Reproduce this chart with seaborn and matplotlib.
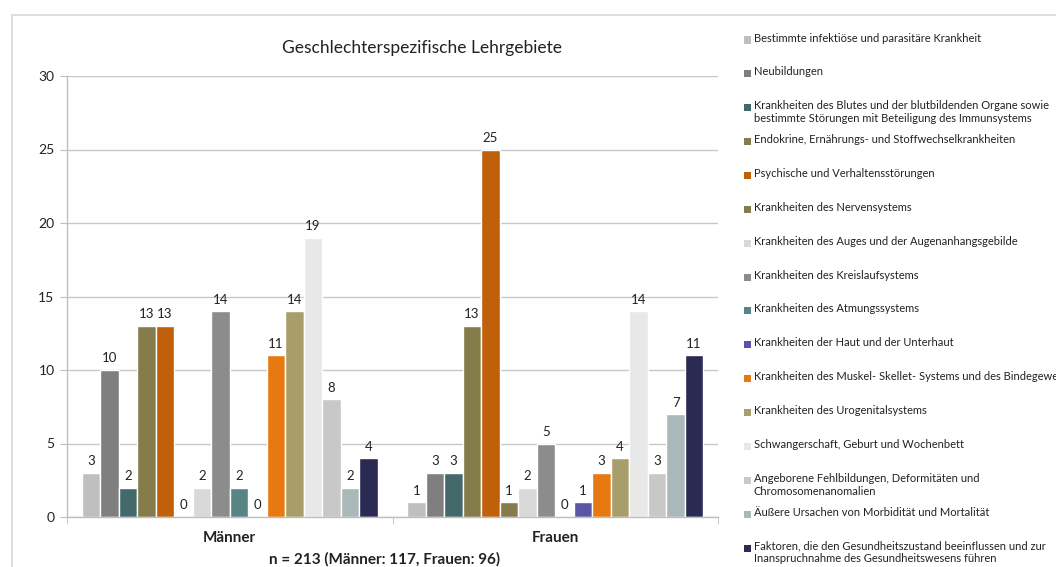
import pandas as pd
import matplotlib.pyplot as plt
import seaborn as sns
from matplotlib.patches import Rectangle

# data ------------------------------------------------------------
groups = ["Männer", "Frauen"]
categories = [
    "Bestimmte infektiöse und parasitäre Krankheit",
    "Neubildungen",
    "Krankheiten des Blutes und der blutbildenden Organe sowie\nbestimmte Störungen mit Beteiligung des Immunsystems",
    "Endokrine, Ernährungs- und Stoffwechselkrankheiten",
    "Psychische und Verhaltensstörungen",
    "Krankheiten des Nervensystems",
    "Krankheiten des Auges und der Augenanhangsgebilde",
    "Krankheiten des Kreislaufsystems",
    "Krankheiten des Atmungssystems",
    "Krankheiten der Haut und der Unterhaut",
    "Krankheiten des Muskel- Skellet- Systems und des Bindegewebes",
    "Krankheiten des Urogenitalsystems",
    "Schwangerschaft, Geburt und Wochenbett",
    "Angeborene Fehlbildungen, Deformitäten und\nChromosomenanomalien",
    "Äußere Ursachen von Morbidität und Mortalität",
    "Faktoren, die den Gesundheitszustand beeinflussen und zur\nInanspruchnahme des Gesundheitswesens führen",
]
maenner = [3, 10, 2, 13, 13, 0, 2, 14, 2, 0, 11, 14, 19, 8, 2, 4]
frauen = [1, 3, 3, 13, 25, 1, 2, 5, 0, 1, 3, 4, 14, 3, 7, 11]
colors = ["#BFBFBF", "#7F7F7F", "#44696B", "#857B4B", "#C0600A", "#857B4B",
          "#D9D9D9", "#8C8C8C", "#588486", "#5B55A8", "#E87810", "#A89E6C",
          "#E8E8E8", "#C8C8C8", "#AAB8BA", "#2A2A52"]
title = "Geschlechterspezifische Lehrgebiete"
note = "n = 213 (Männer: 117, Frauen: 96)"

df = pd.DataFrame({
    "Gruppe": [groups[0]] * len(categories) + [groups[1]] * len(categories),
    "Kategorie": categories * 2,
    "Anzahl": maenner + frauen,
})

# plot ------------------------------------------------------------
sns.set_style("white")
plt.rcParams["font.family"] = ["Lato", "DejaVu Sans"]

fig = plt.figure(figsize=(10.56, 5.67), dpi=100)
ax = fig.add_axes([67 / 1056, 1 - 517 / 567, (718 - 67) / 1056, (517 - 76) / 567])

sns.barplot(data=df, x="Gruppe", y="Anzahl", hue="Kategorie",
            hue_order=categories, order=groups, palette=colors,
            width=0.91, dodge=True, errorbar=None, legend=False,
            saturation=1, ax=ax)

for cont in ax.containers:
    ax.bar_label(cont, padding=4, fontsize=9.5, color="#222222")

ax.set_ylim(0, 30)
ax.set_xlim(-0.5, 1.5)
ax.set_yticks(range(0, 31, 5))
ax.set_xlabel("")
ax.set_ylabel("")
ax.grid(axis="y", color="#C8C8C8", linewidth=1)
ax.set_axisbelow(True)
for s in ("top", "right"):
    ax.spines[s].set_visible(False)
for s in ("left", "bottom"):
    ax.spines[s].set_color("#BFBFBF")
    ax.spines[s].set_linewidth(1)
ax.tick_params(axis="y", left=True, length=5, color="#BFBFBF",
               labelsize=10, labelcolor="#222222", pad=4)
ax.tick_params(axis="x", which="major", length=0, labelsize=11, pad=10)
ax.set_xticks([-0.5, 0.5, 1.5], minor=True)
ax.tick_params(axis="x", which="minor", bottom=True, length=5, color="#BFBFBF")
for lbl in ax.get_xticklabels():
    lbl.set_fontweight("bold")
    lbl.set_color("#222222")

fig.text(422 / 1056, 1 - 48 / 567, title, ha="center", va="center",
         fontsize=12.5, color="#222222")
fig.text(385 / 1056, 1 - 559 / 567, note, ha="center", va="center",
         fontsize=11, fontweight="bold", color="#222222")

# outer frame
fig.patches.append(Rectangle((12 / 1056, -0.1), 1.2, 1 - 15 / 567 + 0.1,
                             transform=fig.transFigure, fill=False,
                             edgecolor="#D9D9D9", linewidth=1.2))

# legend, drawn entry by entry like the original
y0 = 40
step = (548 - 40) / 15
for i, (lab, col) in enumerate(zip(categories, colors)):
    yc = y0 + i * step
    fig.patches.append(Rectangle((744 / 1056, 1 - (yc + 3.5) / 567), 7 / 1056, 7 / 567,
                                 transform=fig.transFigure, facecolor=col,
                                 edgecolor="none"))
    fig.text(754 / 1056, 1 - (yc - 7.5) / 567, lab, ha="left", va="top",
             fontsize=8, color="#222222", linespacing=1.2)

fig.savefig("out.png", dpi=100)
